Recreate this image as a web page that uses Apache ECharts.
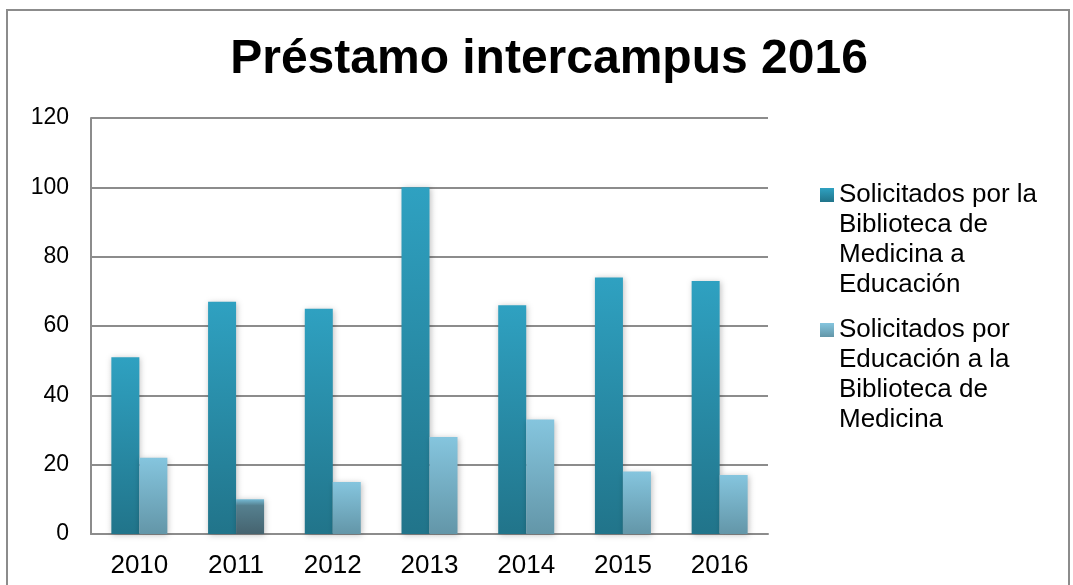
<!DOCTYPE html>
<html>
<head>
    <meta charset="utf-8">
    <title>Préstamo intercampus 2016</title>
    <style type="text/css">
        html, body {
            margin: 0;
            padding: 0;
            background: #ffffff;
        }
        #chart {
            width: 1073px;
            height: 585px;
        }
    </style>
</head>
<body>
    <div id="chart"></div>
    <script src="https://cdn.jsdelivr.net/npm/echarts@6/dist/echarts.min.js"></script>
    <script type="text/javascript">
        // datos
        var years = ['2010', '2011', '2012', '2013', '2014', '2015', '2016'];
        var medicinaAEducacion = [51, 67, 65, 100, 66, 74, 73];
        var educacionAMedicina = [22, 10, 15, 28, 33, 18, 17];
        var yTicks = [0, 20, 40, 60, 80, 100, 120];
        var seriesNames = [
            'Solicitados por la\nBiblioteca de\nMedicina a\nEducación',
            'Solicitados por\nEducación a la\nBiblioteca de\nMedicina'
        ];

        function grad(top, bottom) {
            return new echarts.graphic.LinearGradient(0, 0, 0, 1, [
                { offset: 0, color: top },
                { offset: 1, color: bottom }
            ]);
        }

        var darkColor = grad('#2fa1c1', '#21748a');
        var lightColor = grad('#85c5de', '#6396a8');
        // la barra de 2011 sale más oscura en el original
        var oddColor = new echarts.graphic.LinearGradient(0, 0, 0, 1, [
            { offset: 0, color: '#74b9d3' },
            { offset: 0.18, color: '#55808f' },
            { offset: 1, color: '#45636f' }
        ]);

        var lightData = educacionAMedicina.map(function (v, i) {
            if (i === 1) {
                return { value: v, itemStyle: { color: oddColor } };
            }
            return v;
        });

        var legendText = {
            fontFamily: 'Liberation Sans',
            fontSize: 26,
            color: '#000',
            lineHeight: 30
        };

        // tres líneas en blanco delante para que el icono quede con la primera línea
        function legendFmt(name) {
            return '\n\n\n' + name;
        }

        var chart = echarts.init(document.getElementById('chart'));
        var option = {
            animation: false,
            backgroundColor: '#ffffff',
            title: {
                text: 'Préstamo intercampus 2016',
                left: 544,
                textAlign: 'center',
                top: 31,
                textStyle: {
                    fontFamily: 'Liberation Sans',
                    fontWeight: 'bold',
                    fontSize: 48,
                    color: '#000'
                }
            },
            legend: [{
                data: [seriesNames[0]],
                orient: 'vertical',
                left: 815,
                top: 85,
                icon: 'rect',
                itemWidth: 14,
                itemHeight: 14,
                formatter: legendFmt,
                textStyle: legendText
            }, {
                data: [seriesNames[1]],
                orient: 'vertical',
                left: 815,
                top: 220,
                icon: 'rect',
                itemWidth: 14,
                itemHeight: 14,
                formatter: legendFmt,
                textStyle: legendText
            }],
            grid: {
                left: 91,
                right: 305,
                top: 118,
                bottom: 51,
                containLabel: false
            },
            xAxis: {
                type: 'category',
                data: years,
                axisTick: { show: false },
                axisLine: { lineStyle: { color: '#8c8c8c', width: 2 } },
                axisLabel: {
                    margin: 19,
                    fontFamily: 'Liberation Sans',
                    fontSize: 26,
                    color: '#000'
                }
            },
            yAxis: {
                type: 'value',
                min: yTicks[0],
                max: yTicks[yTicks.length - 1],
                interval: 20,
                axisLine: { show: true, lineStyle: { color: '#8c8c8c', width: 2 } },
                axisTick: { show: false },
                splitLine: { lineStyle: { color: '#8c8c8c', width: 2 } },
                axisLabel: {
                    margin: 22,
                    fontFamily: 'Liberation Sans',
                    fontSize: 23,
                    color: '#000'
                }
            },
            series: [{
                name: seriesNames[0],
                type: 'bar',
                data: medicinaAEducacion,
                barWidth: 28,
                barGap: '0%',
                itemStyle: {
                    color: darkColor,
                    shadowBlur: 6,
                    shadowColor: 'rgba(0,0,0,0.25)',
                    shadowOffsetX: 1,
                    shadowOffsetY: 1
                }
            }, {
                name: seriesNames[1],
                type: 'bar',
                data: lightData,
                barWidth: 28,
                barGap: '0%',
                itemStyle: {
                    color: lightColor,
                    shadowBlur: 6,
                    shadowColor: 'rgba(0,0,0,0.25)',
                    shadowOffsetX: 1,
                    shadowOffsetY: 1
                }
            }],
            graphic: [{
                type: 'rect',
                silent: true,
                shape: { x: 7, y: 10, width: 1062, height: 600 },
                style: { fill: 'none', stroke: '#8c8c8c', lineWidth: 2 },
                z: -1
            }]
        };
        chart.setOption(option);
    </script>
</body>
</html>
